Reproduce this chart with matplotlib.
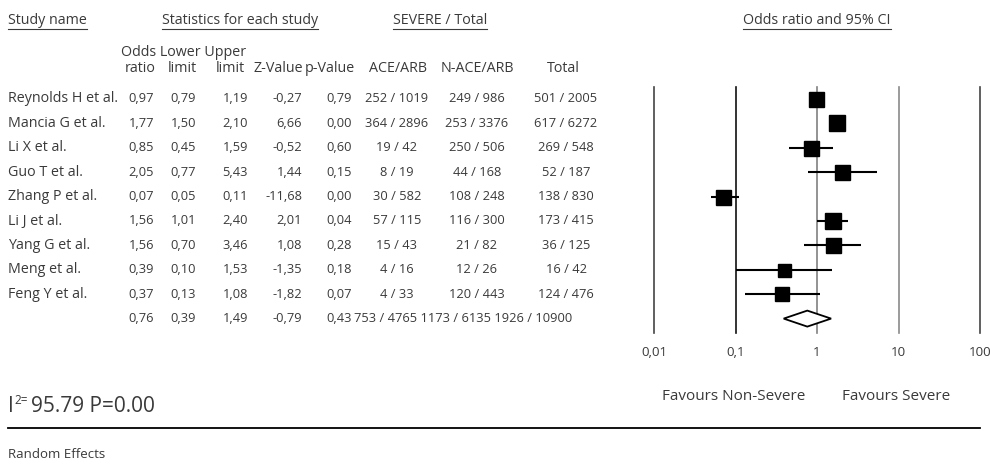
import numpy as np
import matplotlib
matplotlib.use("Agg")
import matplotlib.pyplot as plt

plt.rcParams['font.family'] = ['Open Sans', 'DejaVu Sans']

# ---------------- datos ----------------
studies = ["Reynolds H et al.", "Mancia G et al.", "Li X et al.", "Guo T et al.",
           "Zhang P et al.", "Li J et al.", "Yang G et al.", "Meng et al.", "Feng Y et al."]
odds = [0.97, 1.77, 0.85, 2.05, 0.07, 1.56, 1.56, 0.39, 0.37]
lower = [0.79, 1.50, 0.45, 0.77, 0.05, 1.01, 0.70, 0.10, 0.13]
upper = [1.19, 2.10, 1.59, 5.43, 0.11, 2.40, 3.46, 1.53, 1.08]
zval = [-0.27, 6.66, -0.52, 1.44, -11.68, 2.01, 1.08, -1.35, -1.82]
pval = [0.79, 0.00, 0.60, 0.15, 0.00, 0.04, 0.28, 0.18, 0.07]
ace = ["252 / 1019", "364 / 2896", "19 / 42", "8 / 19", "30 / 582",
       "57 / 115", "15 / 43", "4 / 16", "4 / 33"]
nace = ["249 / 986", "253 / 3376", "250 / 506", "44 / 168", "108 / 248",
        "116 / 300", "21 / 82", "12 / 26", "120 / 443"]
total = ["501 / 2005", "617 / 6272", "269 / 548", "52 / 187", "138 / 830",
         "173 / 415", "36 / 125", "16 / 42", "124 / 476"]
box_px = [15, 16, 15, 15, 15, 16, 15, 13, 14]   # tamaño aparente del cuadrado (peso)

sum_or, sum_lo, sum_hi = 0.76, 0.39, 1.49
sum_z, sum_p = -0.79, 0.43
sum_ace, sum_nace, sum_total = "753 / 4765", "1173 / 6135", "1926 / 10900"

ticks = [0.01, 0.1, 1, 10, 100]
tick_labels = ["0,01", "0,1", "1", "10", "100"]
i2_text = "95.79 P=0.00"

# ---------------- layout ----------------
W, H = 990, 469
TXT = '#3a3a3a'
FS_LAB = 10.3     # textos
FS_NUM = 9.3      # cifras
row0, step = 99, 24.4
fmt = lambda v: f"{v:.2f}".replace('.', ',')

fig = plt.figure(figsize=(W / 100, H / 100), dpi=100)
tab = fig.add_axes([0, 0, 1, 1])
tab.set_xlim(0, W)
tab.set_ylim(H, 0)
tab.axis('off')

def underline(t):
    fig.canvas.draw()
    bb = t.get_window_extent().transformed(tab.transData.inverted())
    tab.plot([bb.x0, bb.x1], [29, 29], color=TXT, lw=0.8)

# cabeceras
underline(tab.text(8, 20, "Study name", ha='left', va='center', fontsize=FS_LAB, color=TXT))
for x, s in [(240, "Statistics for each study"), (440, "SEVERE / Total"),
             (817, "Odds ratio and 95% CI")]:
    underline(tab.text(x, 20, s, ha='center', va='center', fontsize=FS_LAB, color=TXT))

tab.text(184, 52, "Odds Lower Upper", ha='center', va='center', fontsize=FS_LAB, color=TXT)
for x, s in [(140, "ratio"), (182, "limit"), (230, "limit"), (278, "Z-Value"),
             (330, "p-Value"), (398, "ACE/ARB"), (477, "N-ACE/ARB"), (563, "Total")]:
    tab.text(x, 69, s, ha='center', va='center', fontsize=FS_LAB, color=TXT)

# filas de estudios
for i, name in enumerate(studies):
    y = row0 + step * i
    tab.text(8, y, name, ha='left', va='center', fontsize=FS_LAB, color=TXT)
    for x, v in [(154, odds[i]), (196, lower[i]), (248, upper[i]),
                 (302, zval[i]), (352, pval[i])]:
        tab.text(x, y, fmt(v), ha='right', va='center', fontsize=FS_NUM, color=TXT)
    for x, s in [(397, ace[i]), (477, nace[i]), (566, total[i])]:
        tab.text(x, y, s, ha='center', va='center', fontsize=FS_NUM, color=TXT)

# fila resumen
ys = row0 + step * len(studies)
for x, v in [(154, sum_or), (196, sum_lo), (248, sum_hi), (302, sum_z), (352, sum_p)]:
    tab.text(x, ys, fmt(v), ha='right', va='center', fontsize=FS_NUM, color=TXT)
tab.text(354, ys, " ".join([sum_ace, sum_nace, sum_total]), ha='left', va='center',
         fontsize=FS_NUM, color=TXT)

# ---------------- forest plot ----------------
x_left, x_right = 640, 990
dec = 81.5
lo_exp = (x_left - 817) / dec
hi_exp = (x_right - 817) / dec
top_px, bot_px = 80, 345
fax = fig.add_axes([x_left / W, (H - bot_px) / H, (x_right - x_left) / W, (bot_px - top_px) / H])
fax.set_xscale('log')
fax.set_xlim(10 ** lo_exp, 10 ** hi_exp)
fax.set_ylim((bot_px - row0) / step, (top_px - row0) / step)
fax.axis('off')

y_top = (87 - row0) / step
y_bot = (333 - row0) / step
line_cols = ['#444444', '#111111', '#808080', '#8a8a8a', '#444444']
for t, c in zip(ticks, line_cols):
    fax.plot([t, t], [y_top, y_bot], color=c, lw=1.2, zorder=1)
for t, lab in zip(ticks, tick_labels):
    fax.text(t, (353 - row0) / step, lab, ha='center', va='center', fontsize=9.6, color=TXT)

rows = np.arange(len(studies))
fax.hlines(rows, lower, upper, color='black', lw=1.5, zorder=2)
for i in rows:
    fax.plot(odds[i], i, marker='s', ms=box_px[i] * 0.72, color='black', zorder=3)

yd = len(studies)
dh = 8 / step
fax.fill([sum_lo, sum_or, sum_hi, sum_or, sum_lo], [yd, yd - dh, yd, yd + dh, yd],
         facecolor='white', edgecolor='black', lw=1.3, zorder=4)

# leyendas de favorecimiento
tab.text(662, 396, "Favours Non-Severe", ha='left', va='center', fontsize=11, color=TXT)
tab.text(842, 396, "Favours Severe", ha='left', va='center', fontsize=11, color=TXT)

# heterogeneidad
fig.canvas.draw()
inv = tab.transData.inverted()
t1 = tab.text(8, 406, "I", ha='left', va='center', fontsize=15, color=TXT)
fig.canvas.draw()
x1 = t1.get_window_extent().transformed(inv).x1
t2 = tab.text(x1 + 0.5, 400, "2=", ha='left', va='center', fontsize=8.5, color=TXT)
fig.canvas.draw()
x2 = t2.get_window_extent().transformed(inv).x1
tab.text(x2 + 3, 406, i2_text, ha='left', va='center', fontsize=15, color=TXT)

tab.plot([8, 980], [428, 428], color='black', lw=1.3)
tab.text(8, 455, "Random Effects", ha='left', va='center', fontsize=9.5, color=TXT)

fig.savefig("out.png", dpi=100)
